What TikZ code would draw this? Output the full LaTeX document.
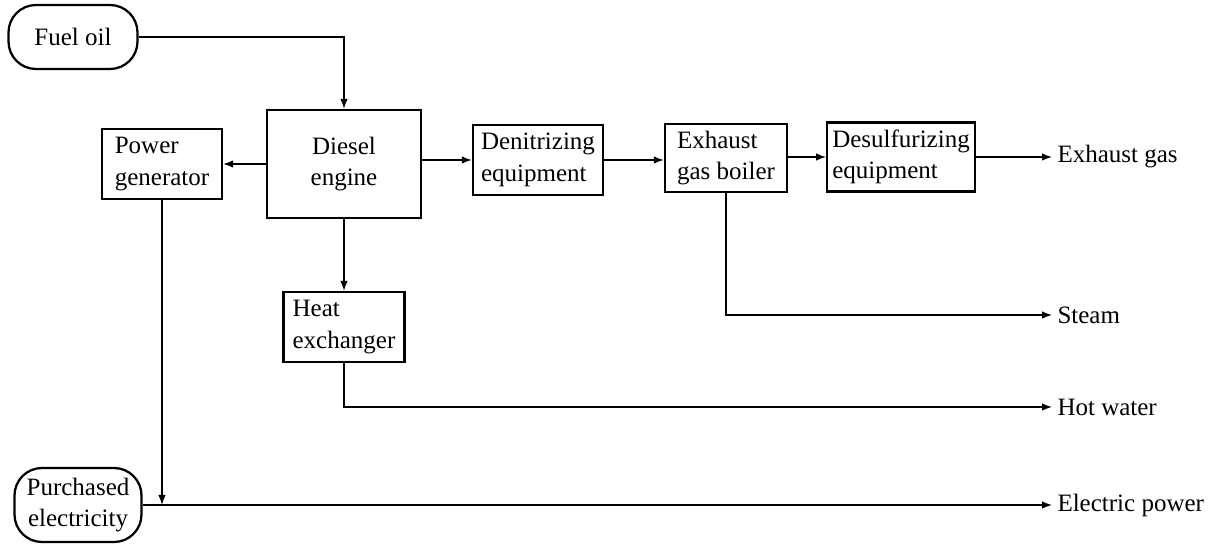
\documentclass[tikz,border=0pt]{standalone}
\usepackage{fontspec}
\setmainfont{Liberation Serif}
\usetikzlibrary{arrows.meta}

\begin{document}
\begin{tikzpicture}[x=0.4pt,y=-0.4pt,
  unit/.style={draw,line width=0.9pt,align=left,inner sep=2pt,
    font=\fontsize{10}{12.5}\selectfont},
  src/.style={unit,rounded corners=11pt,align=center},
  flow/.style={line width=0.55pt,-{Latex[length=4pt,width=3pt]}},
  product/.style={anchor=west,inner sep=2pt,font=\fontsize{10}{12}\selectfont}]
  \useasboundingbox (0,0) rectangle (1220,544);
  % sources
  \node[src,minimum width=51.6pt,minimum height=25.6pt] (fuel) at (73,37) {Fuel oil};
  \node[src,minimum width=50.8pt,minimum height=29.6pt] (pelec) at (78,505) {Purchased\\electricity};
  % units
  \node[unit,align=center,minimum width=61.6pt,minimum height=43.2pt] (diesel) at (344,164) {Diesel\\engine};
  \node[unit,minimum width=48pt,minimum height=28pt] (pgen) at (162,164) {Power\\generator};
  \node[unit,minimum width=52pt,minimum height=28pt] (denit) at (538,160) {Denitrizing\\equipment};
  \node[unit,minimum width=48.8pt,minimum height=27.2pt] (boiler) at (726,158) {Exhaust\\gas boiler};
  \node[unit,minimum width=58.8pt,minimum height=27.6pt] (desulf) at (901,157) {Desulfurizing\\equipment};
  \node[unit,minimum width=48.4pt,minimum height=28pt] (hx) at (344,327) {Heat\\exchanger};
  % products
  \node[product] (exgas) at (1052,157) {Exhaust gas};
  \node[product] (steam) at (1052,315) {Steam};
  \node[product] (hotw) at (1052,407) {Hot water};
  \node[product] (elec) at (1052,505) {Electric power};
  % connectors
  \draw[flow] (fuel.east) -| (diesel.north);
  \draw[flow] (diesel.west) -- (pgen.east);
  \draw[flow] (diesel.east |- denit.west) -- (denit.west);
  \draw[flow] (denit.east) -- (denit.east -| boiler.west);
  \draw[flow] (boiler.east |- desulf.west) -- (desulf.west);
  \draw[flow] (desulf.east) -- (exgas.west);
  \draw[flow] (diesel.south) -- (hx.north);
  \draw[flow] (boiler.south) |- (steam.west);
  \draw[flow] (hx.south) |- (hotw.west);
  \draw[flow] (pelec.east) -- (elec.west);
  \draw[flow] (pgen.south) -- (pgen.south |- pelec.east);
\end{tikzpicture}
\end{document}
